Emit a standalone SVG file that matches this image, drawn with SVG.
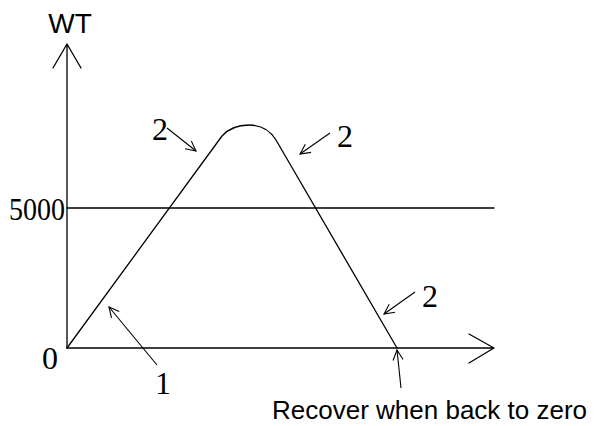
<svg xmlns="http://www.w3.org/2000/svg" width="595" height="426" viewBox="0 0 595 426">
<style>
.ln{fill:none;stroke:#000;stroke-width:1.3;stroke-linecap:round;stroke-linejoin:round}
.ar{fill:none;stroke:#000;stroke-width:1.1;marker-end:url(#v)}
.num{font-family:"Liberation Serif",serif;font-size:32px;fill:#000}
.sans{font-family:"Liberation Sans",Arial,sans-serif;fill:#000}
</style>
<defs>
<marker id="v" viewBox="0 0 12 12" refX="11" refY="6" markerWidth="12" markerHeight="12" markerUnits="userSpaceOnUse" orient="auto">
<path d="M1,1 L11,6 L1,11" fill="none" stroke="#000" stroke-width="1.1"/>
</marker>
</defs>
<rect width="595" height="426" fill="#fff"/>
<g id="axes">
<path class="ln" d="M67,348 V44 M53,68 L67,44 L81,68"/>
<path class="ln" d="M67,348 H494 M469,334 L494,348 L469,363"/>
<path class="ln" d="M67,208 H494"/>
</g>
<g id="curve">
<path class="ln" d="M67,348 L222,136 C230,127 240,125 249,125 C262,125 270,130 276,140 L397,348"/>
</g>
<g id="connectors">
<line class="ar" x1="167" y1="128" x2="196" y2="151"/>
<line class="ar" x1="330" y1="133" x2="300" y2="154"/>
<line class="ar" x1="415" y1="292" x2="384" y2="314"/>
<line class="ar" x1="157" y1="365" x2="109" y2="307"/>
<line class="ar" x1="401" y1="388" x2="397" y2="350"/>
</g>
<g id="labels">
<text class="sans" x="70" y="33" font-size="28" text-anchor="middle">WT</text>
<text class="num" x="9" y="220" textLength="56" lengthAdjust="spacingAndGlyphs">5000</text>
<text class="num" x="50" y="369" text-anchor="middle">0</text>
<text class="num" x="163" y="394" text-anchor="middle">1</text>
<text class="num" x="160" y="140" text-anchor="middle">2</text>
<text class="num" x="345" y="147" text-anchor="middle">2</text>
<text class="num" x="430" y="307" text-anchor="middle">2</text>
<text class="sans" x="272" y="419" font-size="26">Recover when back to zero</text>
</g>
</svg>
